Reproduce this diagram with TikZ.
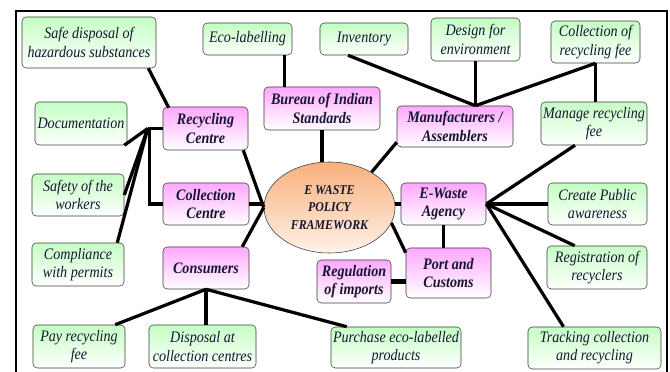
\documentclass[tikz,border=0pt]{standalone}
\usepackage{fontspec}
\setmainfont{Liberation Serif}[FakeStretch=0.88]
\usetikzlibrary{positioning,shapes.geometric,calc}

\definecolor{greentop}{RGB}{196,255,196}
\definecolor{pinktop}{RGB}{255,168,255}
\definecolor{ovaltop}{RGB}{247,176,124}
\definecolor{ovalbottom}{RGB}{255,242,232}
\definecolor{boxline}{RGB}{60,60,60}
\definecolor{inkblue}{RGB}{22,22,48}

\begin{document}
\begin{tikzpicture}[
    x=0.025cm, y=-0.025cm,
    every node/.style={font=\fontsize{11.4}{13}\selectfont\itshape, text=inkblue},
    boxsize/.style 2 args={minimum width=#1*0.025cm, minimum height=#2*0.025cm},
    block/.style={rectangle, draw=boxline, rounded corners=3pt, align=center, inner sep=1pt},
    taskbox/.style={block, top color=greentop, bottom color=white},
    bodybox/.style={block, top color=pinktop, bottom color=white, font=\fontsize{11.4}{13}\selectfont\bfseries\itshape},
    policy/.style={ellipse, draw=boxline, top color=ovaltop, bottom color=ovalbottom, align=center, inner sep=0pt, font=\fontsize{9.6}{12.2}\selectfont\bfseries\itshape},
    link/.style={line width=2.3pt},
    heavylink/.style={line width=3.4pt}
]
\useasboundingbox (0,0) rectangle (670,372);

%% ---- Outer frame ----
\draw[line width=1.3pt] (16,372) -- (16,11) -- (667,11) -- (667,372);

%% ---- Centre ----
\node[policy, boxsize={131}{91}] (frame) at (329.5,207.5) {E WASTE\\POLICY\\FRAMEWORK};

%% ---- Bodies ----
\node[bodybox, boxsize={85}{43}] (recyc) at (205.5,128.5) {Recycling\\Centre};
\node[bodybox, boxsize={86}{42}] (collc) at (206,204) {Collection\\Centre};
\node[bodybox, boxsize={86}{42}] (cons) at (206,268) {Consumers};
\node[bodybox, boxsize={116}{43}] (bis) at (322,108.5) {Bureau of Indian\\Standards};
\node[bodybox, boxsize={116}{41}] (manuf) at (455,126.5) {Manufacturers /\\Assemblers};
\node[bodybox, boxsize={85}{42}] (agency) at (443.5,204) {E-Waste\\Agency};
\node[bodybox, boxsize={85}{50}] (port) at (448.5,273) {Port and\\Customs};
\node[bodybox, boxsize={74}{43}] (regul) at (354,281.5) {Regulation\\of imports};

%% ---- Tasks: top row ----
\node[taskbox, boxsize={134}{51}] (safe) at (89,42.5) {Safe disposal of\\hazardous substances};
\node[taskbox, boxsize={89}{32}] (eco) at (247.5,39) {Eco-labelling};
\node[taskbox, boxsize={88}{32}] (inv) at (364,39) {Inventory};
\node[taskbox, boxsize={89}{43}] (design) at (475.5,39.5) {Design for\\environment};
\node[taskbox, boxsize={89}{42}] (collfee) at (595.5,42) {Collection of\\recycling fee};
\node[taskbox, boxsize={106}{43}] (manage) at (594,123.5) {Manage recycling\\fee};

%% ---- Tasks: left column ----
\node[taskbox, boxsize={92}{43}] (doc) at (81,123.5) {Documentation};
\node[taskbox, boxsize={92}{42}] (safety) at (78,195) {Safety of the\\workers};
\node[taskbox, boxsize={92}{43}] (comply) at (78,264.5) {Compliance\\with permits};

%% ---- Tasks: bottom row ----
\node[taskbox, boxsize={92}{43}] (pay) at (79,346.5) {Pay recycling\\fee};
\node[taskbox, boxsize={107}{43}] (disp) at (202.5,346.5) {Disposal at\\collection centres};
\node[taskbox, boxsize={130}{41}] (purch) at (396,347.5) {Purchase eco-labelled\\products};
\node[taskbox, boxsize={133}{42}] (track) at (594.5,348) {Tracking collection\\and recycling};

%% ---- Tasks: right column ----
\node[taskbox, boxsize={99}{42}] (aware) at (597.5,204) {Create Public\\awareness};
\node[taskbox, boxsize={100}{43}] (regis) at (597,267.5) {Registration of\\recyclers};

%% ---- Bodies to centre ----
\draw[link] ($(recyc.south east)+(-5,0)$) -- (frame.west);
\draw[heavylink] (collc.east) -- (collc.east -| frame.west);
\draw[link] ($(cons.north east)+(-7,0)$) -- (frame.west);
\draw[link] (bis.south) -- (bis.south |- frame.north);
\draw[link] ($(manuf.south west)+(0,-5)$) -- (frame.40);
\draw[heavylink] (frame.east |- agency.west) -- (agency.west);
\draw[link] (frame.-14) -- ($(port.north west)+(0,5)$);

%% ---- Recycling / collection centre ----
\draw[link] ($(safe.south east)+(-8,0)$) -- ($(recyc.north west)+(6,1)$);
\draw[link] (recyc.west) -- ++(-13,0) |- (collc.west);
\coordinate (jn) at ($(recyc.west)+(-15,0)$ |- safety.east);
\draw[link] ($(doc.south east)+(-3,0)$) -- (jn);
\draw[link] (safety.east) -- (jn);
\draw[link] ($(comply.north east)+(-7,0)$) -- (jn);

%% ---- Consumers ----
\draw[link] (cons.south) -- ($(pay.north east)+(-10,0)$);
\draw[link] (cons.south) -- (cons.south |- disp.north);
\draw[link] (cons.south) -- ($(purch.north west)+(16,0)$);

%% ---- Bureau / manufacturers ----
\draw[link] ($(eco.south east)+(-8,0)$) coordinate (e1) -- (e1 |- bis.north);
\coordinate (mj) at (design.south |- manuf.north);
\draw[link] ($(inv.south)+(-16,0)$) -- (mj);
\draw[link] (design.south) -- (mj);
\draw[link] (collfee.south) -- (mj);
\draw[link] (collfee.south) -- (collfee.south |- manage.north);

%% ---- Agency ----
\draw[link] ($(manage.south)+(-19,0)$) -- (agency.east);
\draw[link] (agency.east) -- (aware.west);
\draw[link] (agency.east) -- ($(regis.north west)+(28,0)$);
\draw[link] (agency.east) -- ($(track.north)+(-31,0)$);
\draw[link] (agency.south) -- (agency.south |- port.north);
\draw[heavylink] (regul.east) -- (regul.east -| port.west);

\end{tikzpicture}
\end{document}
